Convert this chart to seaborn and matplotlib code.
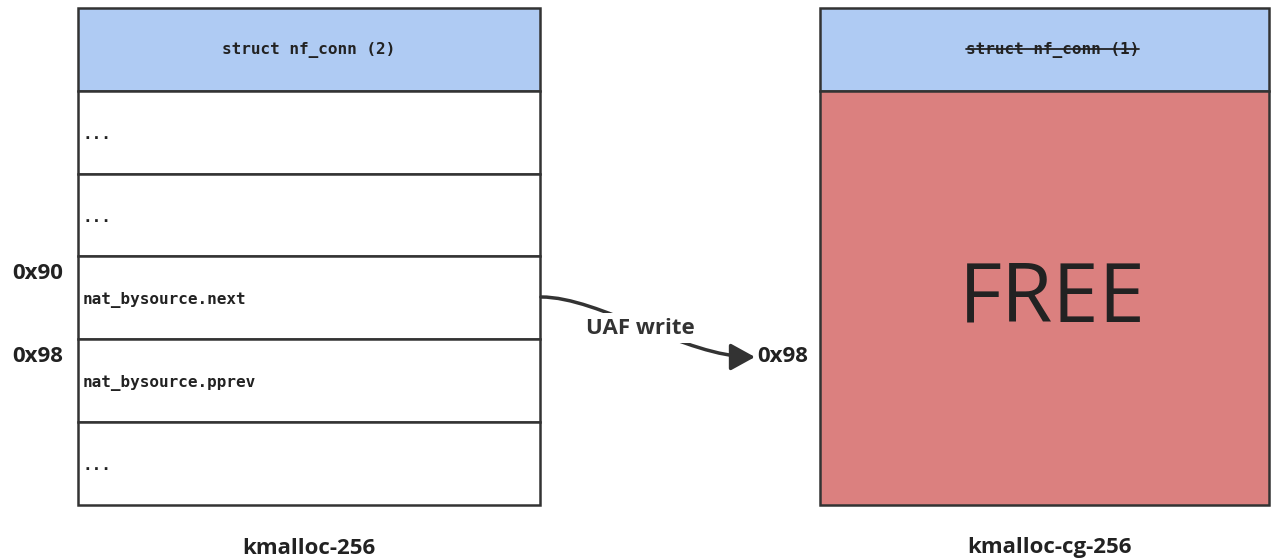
import numpy as np
import seaborn as sns
import matplotlib.pyplot as plt
from matplotlib.patches import FancyArrowPatch
from matplotlib.path import Path

# Slab contents (top to bottom)
left_fields = ["struct nf_conn (2)", "...", "...", "nat_bysource.next", "nat_bysource.pprev", "..."]
left_offsets = ["", "", "", "0x90", "0x98", ""]
right_fields = ["struct nf_conn (1)", "FREE"]
right_spans = [1, 5]
cache_names = ["kmalloc-256", "kmalloc-cg-256"]
arrow_label = "UAF write"
target_offset = "0x98"

sns.set_theme(style="white")
plt.rcParams['font.family'] = ['Open Sans', 'DejaVu Sans']

BLUE = '#afcbf3'
RED = '#db807f'
EDGE = '#333333'
TXT = '#222222'

fig = plt.figure(figsize=(12.79, 5.6), dpi=100)
ax = fig.add_axes([0, 0, 1, 1])
ax.set_xlim(0, 1279)
ax.set_ylim(560, 0)
ax.axis('off')

top, row_h = 8, 82.8
lx0, lx1 = 78, 540
rx0, rx1 = 820, 1269
mono = dict(family='DejaVu Sans Mono', fontweight='bold', fontsize=11.5, color=TXT)

# left slab: one bar per slot
n = len(left_fields)
centers = top + row_h * (np.arange(n) + 0.5)
colors = [BLUE] + ['white'] * (n - 1)
ax.barh(centers, lx1 - lx0, left=lx0, height=row_h, color=colors,
        edgecolor=EDGE, linewidth=1.8)
ax.text((lx0 + lx1) / 2, centers[0] + 1, left_fields[0], ha='center', va='center', **mono)
for c, f, off in zip(centers[1:], left_fields[1:], left_offsets[1:]):
    ax.text(lx0 + 5, c + 2, f, ha='left', va='center', **mono)
    if off:
        ax.text(12, c - row_h / 2 + 17, off, ha='left', va='center',
                fontweight='bold', fontsize=16, color=TXT)

# right slab: header + freed area
starts = np.concatenate([[0], np.cumsum(right_spans)[:-1]])
r_centers = top + row_h * (starts + np.array(right_spans) / 2)
ax.barh(r_centers, rx1 - rx0, left=rx0, height=row_h * np.array(right_spans),
        color=[BLUE, RED], edgecolor=EDGE, linewidth=1.8)
hdr = ax.text((rx0 + rx1) / 2 + 8, r_centers[0] + 1, right_fields[0], ha='center',
              va='center', **mono)
fig.canvas.draw()
bb = hdr.get_window_extent().transformed(ax.transData.inverted())
ax.plot([bb.x0, bb.x1], [r_centers[0], r_centers[0]], color=TXT, lw=1.3)
ax.text((rx0 + rx1) / 2 + 8, 300, right_fields[1], ha='center', va='center',
        fontsize=60, color=TXT)

# UAF write arrow
verts = [(541, 297), (600, 297), (685, 357), (755, 357)]
path = Path(verts, [Path.MOVETO, Path.CURVE4, Path.CURVE4, Path.CURVE4])
arr = FancyArrowPatch(path=path, arrowstyle='-|>,head_length=0.6,head_width=0.33',
                      mutation_scale=25, color=EDGE, lw=2.5, shrinkA=0, shrinkB=0)
ax.add_patch(arr)
ax.text(640, 328, arrow_label, ha='center', va='center', fontsize=16,
        fontweight='bold', color='#333333',
        bbox=dict(fc='white', ec='none', pad=3))
ax.text(757, 357, target_offset, ha='left', va='center', fontsize=16,
        fontweight='bold', color=TXT)

# cache names
ax.text((lx0 + lx1) / 2, 548, cache_names[0], ha='center', va='center',
        fontsize=16, fontweight='bold', color=TXT)
ax.text((rx0 + rx1) / 2 + 5, 548, cache_names[1], ha='center', va='center',
        fontsize=16, fontweight='bold', color=TXT)

fig.savefig('out.png', dpi=100, facecolor='white')
